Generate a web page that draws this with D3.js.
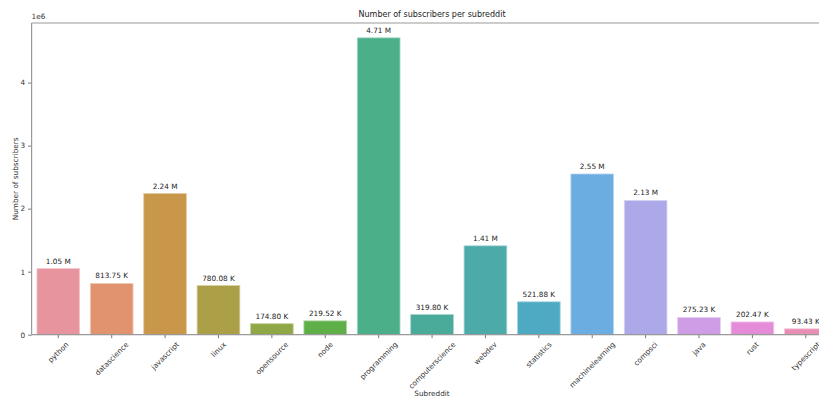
<!DOCTYPE html>
<html>
<head>
<meta charset="utf-8">
<script src="https://cdn.jsdelivr.net/npm/d3@7"></script>
<style>
  body { margin: 0; background: #fff; }
  text { font-family: "DejaVu Sans", sans-serif; }
</style>
</head>
<body>
<svg id="chart"></svg>
<script>
// data
const subreddits = ["python", "datascience", "javascript", "linux", "opensource", "node",
  "programming", "computerscience", "webdev", "statistics", "machinelearning", "compsci",
  "java", "rust", "typescript"]
const subscribers = [1050000, 813750, 2240000, 780080, 174800, 219520, 4710000, 319800,
  1410000, 521880, 2550000, 2130000, 275230, 202470, 93430]
const barColors = ["#e8949e", "#e19370", "#c8974a", "#ab9f47", "#8fa746", "#5eaf48",
  "#4bb08a", "#4aab9a", "#4caaa8", "#4eaac2", "#6badE0", "#ada8e8", "#cf9de5", "#e58cd9", "#e88eb5"]
const yTicks = [0, 1e6, 2e6, 3e6, 4e6]

const W = 819, H = 398
const mLeft = 31.6, mRight = 832.5, mTop = 23, mBottom = 334.7

const svg = d3.select("svg#chart")
              .attr("width", W)
              .attr("height", H)

const x = d3.scaleBand()
            .domain(subreddits)
            .range([mLeft, mRight])
            .paddingInner(0.2)
            .paddingOuter(0.1)

const y = d3.scaleLinear()
            .domain([0, d3.max(subscribers) * 1.05])
            .range([mBottom, mTop])

const fmt = v => v >= 1e6 ? (v / 1e6).toFixed(2) + " M" : (v / 1e3).toFixed(2) + " K"

const data = subreddits.map((s, i) => ({name: s, value: subscribers[i], color: barColors[i]}))

//bars
svg.selectAll("rect.bar")
   .data(data)
   .join("rect")
   .attr("class", "bar")
   .attr("x", d => x(d.name))
   .attr("y", d => y(d.value))
   .attr("width", x.bandwidth())
   .attr("height", d => y(0) - y(d.value))
   .attr("fill", d => d.color)
   .attr("stroke", d => d3.interpolateRgb(d.color, "#fff")(0.5))
   .attr("stroke-width", 0.8)

//value labels
svg.selectAll("text.val")
   .data(data)
   .join("text")
   .attr("class", "val")
   .attr("x", d => x(d.name) + x.bandwidth() / 2)
   .attr("y", d => y(d.value) - 5)
   .attr("text-anchor", "middle")
   .attr("font-size", 7.3)
   .attr("fill", "#222")
   .text(d => fmt(d.value))

//y axis
const yAxis = svg.append("g")
                 .attr("transform", `translate(${mLeft},0)`)
                 .call(d3.axisLeft(y).tickValues(yTicks).tickFormat(d => d / 1e6).tickSizeOuter(0).tickSize(3.5))
yAxis.select(".domain").remove()
yAxis.selectAll(".tick line").attr("stroke", "#555").attr("stroke-width", 0.8)
yAxis.selectAll(".tick text").attr("font-size", 7.3).attr("fill", "#333").attr("font-family", "DejaVu Sans")

//x axis
const xAxis = svg.append("g")
                 .attr("transform", `translate(0,${mBottom})`)
                 .call(d3.axisBottom(x).tickSize(3.5).tickSizeOuter(0))
xAxis.select(".domain").remove()
xAxis.selectAll(".tick line").attr("stroke", "#555").attr("stroke-width", 0.8)
xAxis.selectAll(".tick text")
     .attr("font-size", 7.3)
     .attr("fill", "#333")
     .attr("font-family", "DejaVu Sans")
     .attr("y", 0)
     .attr("dy", null)
     .attr("text-anchor", "middle")
     .attr("dominant-baseline", "central")
     .each(function () {
         const w = this.getComputedTextLength()
         const h = 7.3
         const off = 6 + (w + h) / (2 * Math.SQRT2)
         d3.select(this).attr("transform", `translate(0,${off}) rotate(-45)`)
     })

//spines
const spine = (x1, y1, x2, y2) => svg.append("line")
     .attr("x1", x1).attr("y1", y1).attr("x2", x2).attr("y2", y2)
     .attr("stroke", "#999").attr("stroke-width", 1.2)
spine(mLeft, mTop, mLeft, mBottom)
spine(mLeft, mBottom, mRight, mBottom)
spine(mLeft, mTop, mRight, mTop)

//offset text
svg.append("text")
   .attr("x", mLeft)
   .attr("y", 19)
   .attr("font-size", 7.3)
   .attr("fill", "#333")
   .text("1e6")

//title
svg.append("text")
   .attr("x", (mLeft + mRight) / 2)
   .attr("y", 17)
   .attr("text-anchor", "middle")
   .attr("font-size", 8)
   .attr("fill", "#222")
   .text("Number of subscribers per subreddit")

//axis labels
svg.append("text")
   .attr("x", (mLeft + mRight) / 2)
   .attr("y", 396)
   .attr("text-anchor", "middle")
   .attr("font-size", 7.3)
   .attr("fill", "#333")
   .text("Subreddit")

svg.append("text")
   .attr("transform", `translate(18,${(mTop + mBottom) / 2}) rotate(-90)`)
   .attr("text-anchor", "middle")
   .attr("font-size", 7.3)
   .attr("fill", "#333")
   .text("Number of subscribers")
</script>
</body>
</html>
